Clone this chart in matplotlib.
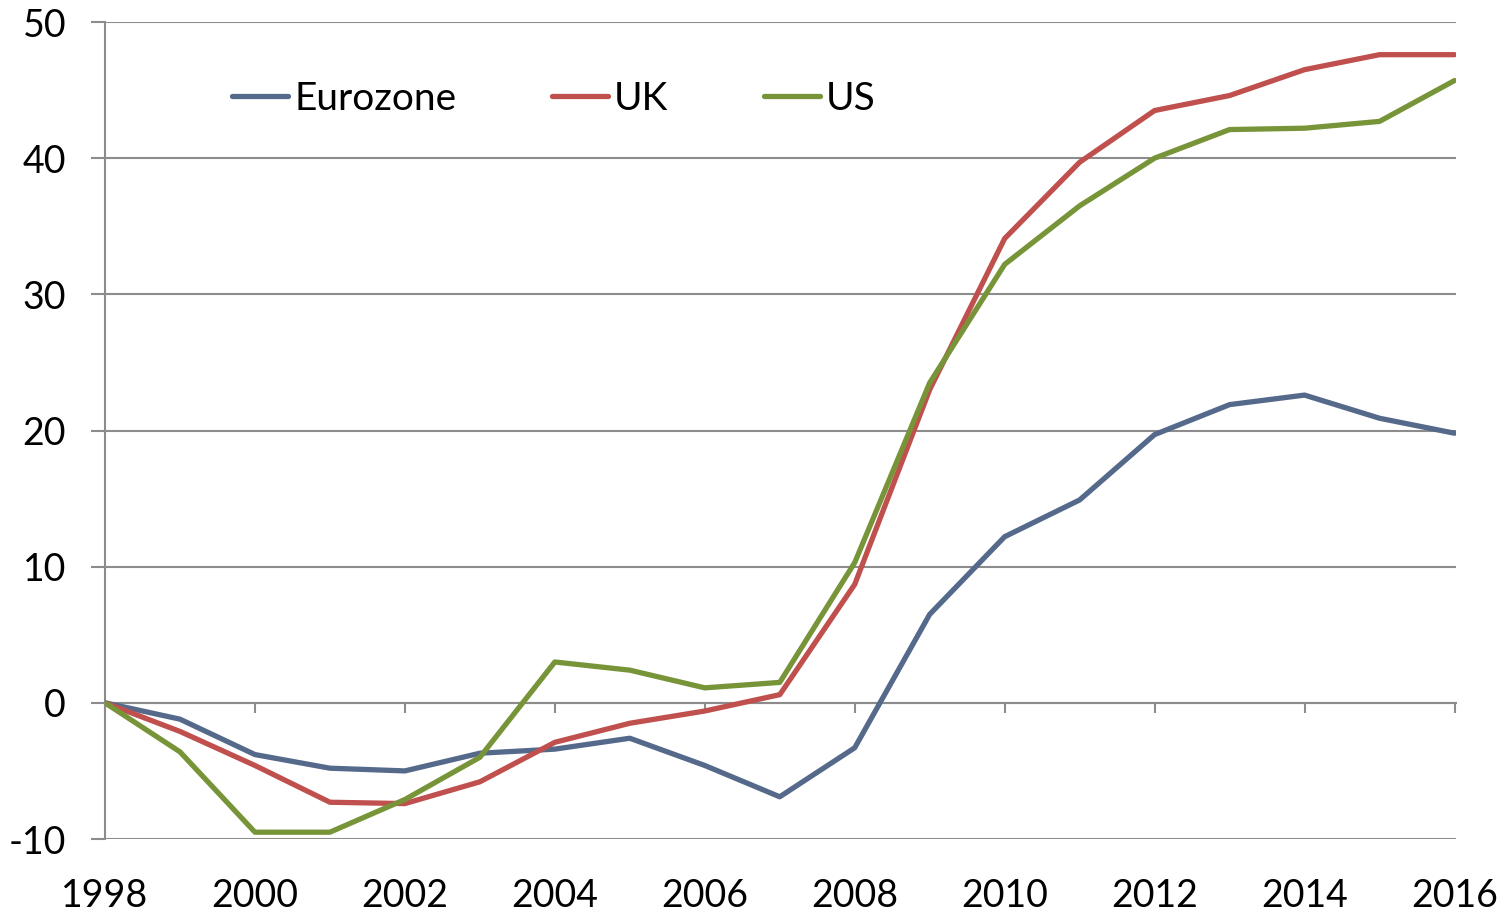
import matplotlib
matplotlib.use("Agg")
import matplotlib.pyplot as plt

plt.rcParams['font.family'] = ['Lato', 'DejaVu Sans']

years = list(range(1998, 2017))
eurozone = [0, -1.2, -3.8, -4.8, -5.0, -3.7, -3.4, -2.6, -4.6, -6.9, -3.3,
            6.5, 12.2, 14.9, 19.7, 21.9, 22.6, 20.9, 19.8]
uk = [0, -2.1, -4.6, -7.3, -7.4, -5.8, -2.9, -1.5, -0.6, 0.6, 8.7,
      23.0, 34.1, 39.7, 43.5, 44.6, 46.5, 47.6, 47.6]
us = [0, -3.6, -9.5, -9.5, -7.1, -4.0, 3.0, 2.4, 1.1, 1.5, 10.3,
      23.5, 32.2, 36.5, 40.0, 42.1, 42.2, 42.7, 45.7]
series_names = ["Eurozone", "UK", "US"]
colors = ["#55698B", "#C0504D", "#779438"]
yticks = [-10, 0, 10, 20, 30, 40, 50]
xticks = list(range(1998, 2017, 2))

W, H = 1501, 913
fig = plt.figure(figsize=(W / 100, H / 100), dpi=100)
ax = fig.add_axes([105 / W, 1 - 839 / H, (1456 - 105) / W, (839 - 22) / H])

grid_c = "#8C8C8C"
for name, vals, c in zip(series_names, [eurozone, uk, us], colors):
    ax.plot(years, vals, color=c, lw=3.8, label=name, solid_capstyle='round',
            solid_joinstyle='round', zorder=3)

ax.set_xlim(1998, 2016.02)
ax.set_ylim(-10, 50)
ax.set_yticks(yticks)
ax.set_yticklabels([str(v) for v in yticks])
ax.yaxis.grid(True, color=grid_c, lw=1.5)
ax.set_axisbelow(True)

for s in ['top', 'right']:
    ax.spines[s].set_visible(False)
ax.spines['left'].set_color(grid_c)
ax.spines['left'].set_linewidth(1.5)
ax.spines['bottom'].set_position(('data', 0))
ax.spines['bottom'].set_color(grid_c)
ax.spines['bottom'].set_linewidth(1.5)

ax.set_xticks(xticks)
ax.tick_params(axis='x', direction='out', length=7, width=1.5, color=grid_c,
               labelbottom=False)
ax.tick_params(axis='y', direction='out', length=10, width=1.5, color=grid_c,
               labelsize=27, pad=18)

sec = ax.secondary_xaxis(0.0)
sec.set_xticks(xticks)
sec.set_xticklabels([str(x) for x in xticks])
sec.tick_params(length=0, labelsize=27, pad=28)
sec.spines['bottom'].set_visible(False)

leg = ax.legend(loc='center left', bbox_to_anchor=(232 / W, 1 - 99 / H),
                bbox_transform=fig.transFigure, ncol=3, frameon=False,
                fontsize=28, handlelength=1.45, handletextpad=0.15,
                columnspacing=2.45, borderpad=0, borderaxespad=0)

fig.savefig("out.png", dpi=100)
